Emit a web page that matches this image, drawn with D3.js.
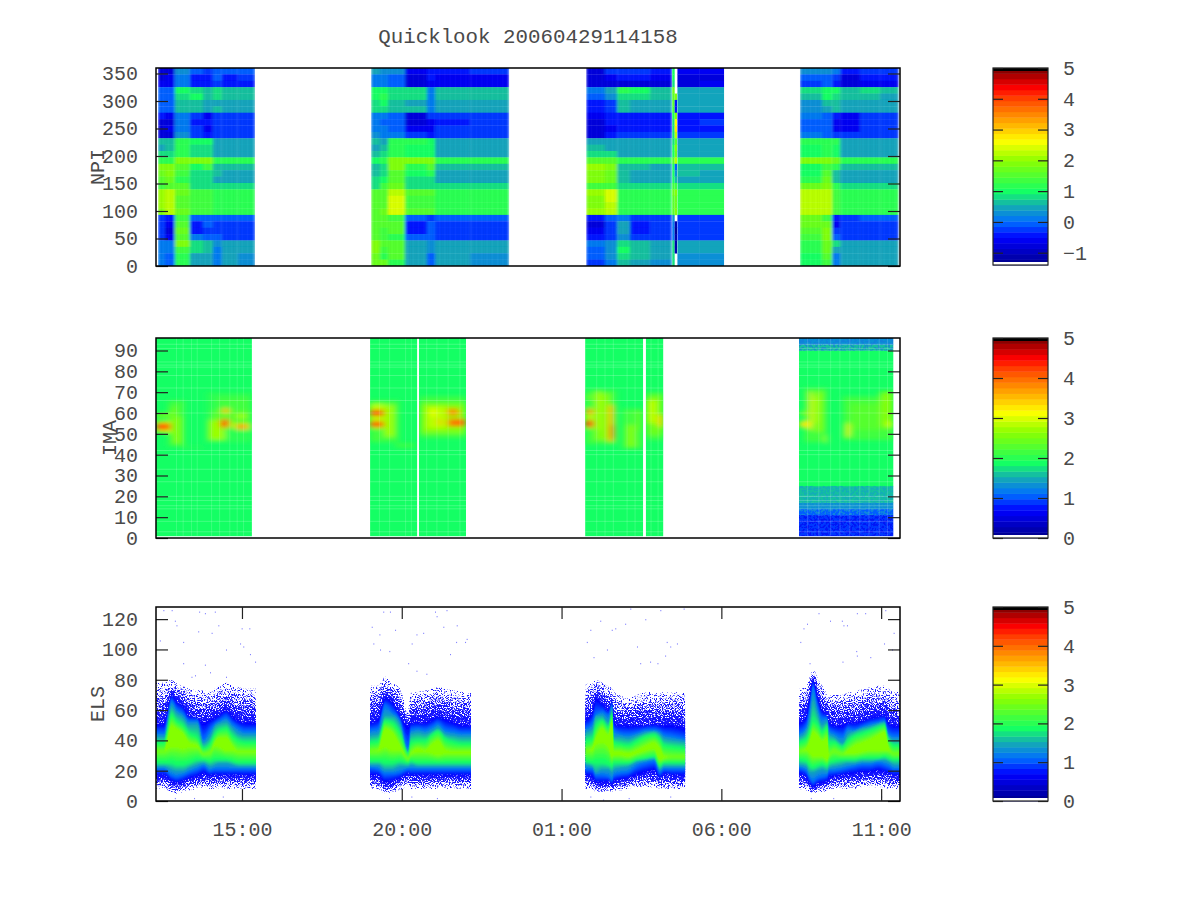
<!DOCTYPE html>
<html>
<head>
<meta charset="utf-8">
<title>Quicklook</title>
<script src="https://d3js.org/d3.v7.min.js"></script>
<style>
body { margin: 0; background: #fff; }
text { font-family: "Liberation Mono", monospace; fill: #4a4a4a; }
.axis text { font-size: 20px; fill: #4a4a4a; }
.axis line { stroke: #222; stroke-width: 1.2; }
.axis path { display: none; }
</style>
</head>
<body>
<script>
// hours count on from midnight of the first day, so 25 is 01:00 next day
var timeDomain = [12.31, 35.59];
var timeTicks = [15, 20, 25, 30, 35];

var npiTicks = [0, 50, 100, 150, 200, 250, 300, 350];
var imaTicks = [0, 10, 20, 30, 40, 50, 60, 70, 80, 90];
var elsTicks = [0, 20, 40, 60, 80, 100, 120];
var npiBarTicks = [-1, 0, 1, 2, 3, 4, 5];
var barTicks = [0, 1, 2, 3, 4, 5];

// NPI: column edges (hours) and rows from the top sector down to sector 0
var npiEdges1 = [12.37, 12.59, 12.90, 13.37, 13.78, 14.09, 14.37, 14.87, 15.41];
var npiRows1 = [
  [-.7,-.7,.3,-.1,-.3,.0,-.1,-.1],
  [-.7,-.6,.2,-.4,-.5,-.1,-.4,-.3],
  [-.6,-.6,.1,-.4,-.5,-.3,-.5,-.4],
  [-.1,-.1,1.0,.9,.6,.8,.7,.65],
  [-.1,-.1,.9,1.0,.6,.8,.7,.65],
  [.0,-.1,.6,.6,.5,.5,.45,.45],
  [-.1,-.1,.6,.65,.5,.6,.5,.5],
  [-.5,-.6,.2,-.3,-.6,-.2,-.2,-.2],
  [-.7,-.7,.2,-.4,-.5,-.3,-.3,-.3],
  [-.7,-.6,.2,-.3,-.6,-.3,-.2,-.25],
  [-.8,-.7,.3,-.2,-.4,-.2,-.2,-.2],
  [.7,.7,1.15,1.0,1.0,.55,.55,.55],
  [.5,.6,1.1,.9,.9,.5,.5,.5],
  [.9,.9,1.1,.9,.9,.55,.55,.55],
  [1.1,1.1,1.9,1.8,1.8,1.1,1.1,1.1],
  [1.8,1.8,1.5,1.0,1.3,.7,.6,.6],
  [1.75,1.8,1.3,.9,.9,.6,.55,.55],
  [1.6,1.7,1.25,.85,.85,.5,.5,.5],
  [1.3,1.6,1.6,.9,.9,.8,.8,.8],
  [2.0,2.2,1.7,1.3,1.35,1.1,1.1,1.1],
  [2.1,2.3,1.5,1.3,1.4,1.1,1.1,1.1],
  [2.0,2.3,1.5,1.3,1.3,1.1,1.1,1.1],
  [1.9,2.2,1.7,1.3,1.35,1.1,1.1,1.1],
  [-.2,-.5,1.4,-.1,-.1,-.1,-.15,-.15],
  [-.2,-.6,1.6,-.5,-.1,-.2,-.3,-.3],
  [-.3,-.7,1.7,-.4,-.2,-.3,-.3,-.3],
  [-.3,-.6,1.5,.1,.0,-.1,-.2,-.2],
  [.2,.2,1.8,.9,.6,.3,.5,.45],
  [.1,.1,1.4,.8,.6,.2,.45,.4],
  [.1,.0,1.2,.5,.4,.1,.4,.35],
  [.1,.0,1.2,.5,.4,.1,.4,.35]
];

var npiEdges2 = [19.04, 19.32, 19.57, 20.10, 20.79, 21.04, 22.14, 23.36];
var npiRows2 = [
  [.4,.35,.25,-.6,-.4,-.35,-.3],
  [.1,.05,-.1,-.7,-.5,-.6,-.6],
  [.15,.1,-.1,-.7,-.55,-.65,-.6],
  [1.0,1.0,.9,.9,.2,.7,.65],
  [1.0,1.1,.9,.8,.2,.65,.6],
  [.9,1.0,.6,.5,.1,.5,.5],
  [.8,.9,.6,.6,.2,.55,.55],
  [.1,.1,-.1,-.7,-.3,-.2,-.2],
  [.1,.0,-.1,-.7,-.6,-.35,-.3],
  [.2,.1,-.1,-.6,-.6,-.3,-.3],
  [.25,.2,.1,-.3,-.4,-.2,-.2],
  [.6,.55,1.1,1.1,1.05,.55,.55],
  [.55,.7,1.1,1.05,1.0,.5,.5],
  [.7,.9,1.1,1.05,1.0,.55,.55],
  [1.0,1.2,1.9,1.85,1.9,1.1,1.1],
  [.6,.9,1.8,1.1,1.5,.6,.6],
  [.6,.9,1.6,1.0,1.1,.55,.55],
  [.8,1.0,1.5,.9,.8,.5,.5],
  [.9,1.4,1.7,.8,.9,.8,.8],
  [1.6,1.5,2.3,1.5,1.5,1.1,1.1],
  [1.6,1.5,2.4,1.4,1.4,1.1,1.1],
  [1.6,1.6,2.4,1.4,1.4,1.1,1.1],
  [1.6,1.7,2.4,1.5,1.5,1.1,1.1],
  [1.5,1.5,1.4,-.1,-.2,-.15,-.1],
  [1.6,1.5,1.5,-.4,-.1,-.3,-.3],
  [1.6,1.3,1.5,-.4,.0,-.3,-.3],
  [1.5,1.3,1.2,-.1,.0,-.3,-.25],
  [1.9,1.6,1.5,.5,.3,.45,.45],
  [1.8,1.3,1.6,.5,.3,.4,.4],
  [1.7,1.2,1.5,.5,.0,.4,.35],
  [1.7,1.7,1.2,.5,-.1,.4,.35]
];

var npiEdges3 = [25.77, 26.36, 26.74, 27.14, 27.77, 28.46, 28.54, 28.62, 29.33, 30.09];
var npiRows3 = [
  [-.7,-.3,-.3,-.2,-.4,1.0,null,-.6,-.6],
  [-.8,-.6,-.5,-.5,-.6,1.0,null,-.7,-.7],
  [-.8,-.7,-.7,-.7,-.7,.9,null,-.7,-.6],
  [.1,.5,1.1,.95,.7,1.7,null,.55,.55],
  [-.1,.3,.9,.75,.6,1.6,1.8,.5,.5],
  [-.4,-.3,.6,.5,.5,1.6,-.5,.5,.5],
  [-.5,-.3,.6,.55,.5,1.4,-.4,.5,.5],
  [-.6,-.5,-.4,-.4,-.4,1.0,1.8,-.4,-.4],
  [-.7,-.5,-.5,-.5,-.4,.8,2.6,-.4,-.3],
  [-.8,-.6,-.5,-.5,-.5,.8,2.8,-.5,-.4],
  [-.7,-.4,-.3,-.3,-.2,.8,2.2,-.2,-.2],
  [.55,.55,.5,.5,.5,.8,1.6,.55,.55],
  [.6,.55,.5,.45,.5,1.0,1.8,.5,.5],
  [.9,.75,.55,.5,.55,1.0,1.7,.55,.55],
  [1.6,1.5,1.2,1.15,1.1,1.5,2.3,1.1,1.1],
  [2.0,1.8,.6,.6,.55,1.0,.0,.6,.6],
  [1.9,1.7,.6,.55,.55,1.0,.3,.6,.55],
  [1.9,1.7,.6,.55,.55,1.0,.6,.55,.55],
  [1.4,1.4,.8,.8,.75,1.3,1.3,.8,.8],
  [2.0,2.4,1.1,1.1,1.1,1.7,1.8,1.1,1.1],
  [1.9,2.4,1.1,1.1,1.1,1.5,1.7,1.1,1.1],
  [1.9,2.2,1.1,1.1,1.1,1.5,1.7,1.1,1.1],
  [2.0,2.2,1.1,1.1,1.1,1.5,1.8,1.1,1.1],
  [-.4,-.15,.1,-.2,-.2,.3,null,-.2,-.2],
  [-.7,-.3,.4,-.4,-.3,.2,-1.1,-.3,-.3],
  [-.6,-.3,.45,-.4,-.3,.2,-1.3,-.3,-.3],
  [-.5,-.2,.3,-.3,-.2,.2,-1.2,-.25,-.25],
  [.1,.3,.9,.6,.5,.9,-1.1,.4,.4],
  [.0,.3,1.0,.7,.5,.8,-1.1,.4,.4],
  [-.1,.25,.9,.6,.45,.8,null,.35,.35],
  [-.3,.1,.6,.4,.3,.8,null,.35,.35]
];

var npiEdges4 = [32.46, 33.15, 33.47, 33.72, 34.34, 34.97, 35.55];
var npiRows4 = [
  [.25,.3,.1,-.4,-.3,-.2],
  [.0,.0,-.2,-.7,-.5,-.5],
  [-.2,-.1,-.4,-.75,-.6,-.65],
  [.9,1.0,1.0,.65,.85,.6],
  [.7,1.0,.85,.6,.6,.55],
  [.35,.6,.6,.5,.5,.45],
  [.3,.5,.6,.5,.5,.45],
  [.1,.0,-.5,-.6,-.3,-.3],
  [.0,-.1,-.6,-.6,-.3,-.3],
  [-.1,-.1,-.6,-.6,-.3,-.3],
  [.2,.0,-.3,-.3,-.2,-.2],
  [1.1,1.1,1.1,.55,.55,.55],
  [1.0,1.2,1.0,.5,.5,.5],
  [1.05,1.1,1.0,.55,.55,.55],
  [1.9,1.9,1.7,1.1,1.1,1.1],
  [1.0,1.4,1.2,.6,.6,.6],
  [1.0,1.5,.6,.55,.55,.55],
  [1.1,1.7,.7,.55,.55,.55],
  [1.7,1.8,1.1,.8,.8,.8],
  [2.3,2.3,1.4,1.1,1.1,1.1],
  [2.3,2.3,1.3,1.1,1.1,1.1],
  [2.2,2.3,1.3,1.1,1.1,1.1],
  [2.2,2.3,1.4,1.1,1.1,1.1],
  [1.7,1.4,-.5,-.2,-.15,-.15],
  [1.7,1.7,-.6,-.3,-.3,-.3],
  [1.5,1.8,-.3,-.3,-.3,-.3],
  [1.3,1.9,-.1,-.2,-.2,-.2],
  [1.2,1.7,.9,.5,.45,.45],
  [1.1,1.7,.5,.5,.45,.4],
  [1.0,1.6,.2,.45,.4,.4],
  [1.0,1.4,.1,.45,.4,.4]
];

// IMA: [first hour, last hour, bands of [channel from, channel to, value]]
var imaQuiet = [[1, 96, 1.88]];
var imaLate = [[1, 3, .95], [3, 11, .85], [11, 14, 1.05], [14, 17, 1.25], [17, 20, 1.55], [20, 25, 1.62], [25, 90, 1.85], [90, 93, 1.6], [93, 96, 1.3]];
var imaSpans = [
  [12.31, 15.31, imaQuiet],
  [19.01, 20.48, imaQuiet],
  [20.54, 22.01, imaQuiet],
  [25.74, 27.55, imaQuiet],
  [27.64, 28.18, imaQuiet],
  [32.43, 35.38, imaLate]
];
// channels and hours where the original shows paler seams between cells
var imaSeamChannels = [3, 8, 14, 15.5, 18, 20, 27, 33, 40, 42, 60, 66, 72, 78, 82, 83, 84.5, 91, 93];
var imaSeamHours = [12.95, 13.16, 13.42, 13.60, 14.05, 14.30, 14.62, 14.85, 15.05, 19.30, 19.62, 20.12, 20.30, 20.78, 21.10, 21.45, 21.82, 26.10, 26.36, 26.62, 27.05, 27.30, 27.80, 28.02, 32.70, 33.05, 33.42, 33.71, 34.02, 34.33, 34.62, 34.94, 35.20];
// IMA features: [hour from, hour to, channel from, channel to, value]
var imaPatches = [
  [12.7,13.2,44,66,2.1], [13.9,15.31,46,70,2.05], [19.0,19.9,46,66,2.1], [20.57,22.01,48,68,2.1],
  [25.74,26.7,45,71,2.1], [26.9,27.55,43,62,2.1], [27.66,28.2,47,70,2.1], [32.6,33.3,46,72,2.1], [33.8,35.38,47,68,2.1],
  [12.31,12.77,50.8,56,3.1], [12.31,12.77,58,59.8,2.6], [12.31,12.77,52,54.9,4.3],
  [12.77,12.95,48.6,63,2.4], [12.85,13.11,45.4,58.2,2.5], [13.11,13.22,43,45.4,2.2], [13.22,13.79,43,43.8,2.05],
  [14.21,15.25,61.4,67.8,2.12], [14.05,15.25,52.6,61.4,2.25], [13.95,14.47,47,56.6,2.7],
  [14.33,14.6,53,57,4.1], [14.38,14.6,60,62.2,3.5], [14.57,14.78,53.4,55,2.9],
  [14.8,15.25,52.2,54.7,3.4], [14.88,15.09,52.5,54.3,4.0], [14.83,15.14,57.8,59.2,2.9],
  [19.0,19.45,52.6,64.3,2.9], [19.0,19.45,58.7,61.3,4.4], [19.0,19.45,53.2,56,4.1],
  [19.45,19.79,48.6,63.8,2.7], [19.79,20.41,43.5,45.4,2.1],
  [20.57,22.01,50.2,64.6,2.5], [20.78,21.40,52.6,63,2.9], [20.93,21.04,58.2,62.2,3.1],
  [21.14,21.25,54.2,57,3.6], [21.44,21.74,58.8,62.1,3.8], [21.44,22.01,53.6,57.2,4.0], [21.77,21.84,59,61.4,3.5],
  [25.74,26.0,52.6,62.2,2.9], [25.74,26.0,59.6,61.6,3.8], [25.74,26.0,53.2,56.5,4.2], [25.74,26.0,67,68.2,2.5],
  [26.05,26.52,47,69.4,2.5], [26.12,26.21,51.8,71,2.9], [26.47,26.63,46.2,63.8,3.5], [26.54,26.63,47.8,54.2,4.4],
  [27.04,27.30,43.5,54.2,2.6], [27.30,27.54,51.8,61.4,2.3],
  [27.66,28.20,49.4,68.6,2.4], [27.66,27.98,55,66.2,2.8], [28.03,28.20,53.4,59,3.4],
  [32.44,32.78,53.2,56,3.2], [32.44,32.78,59,60.6,2.5], [32.76,32.83,51.8,70.2,3.2],
  [32.94,33.20,51,70.2,2.5], [32.88,32.97,55,67.8,2.9], [33.25,33.30,45.4,49.4,3.0],
  [34.01,35.37,51.8,64.6,2.28], [33.91,34.01,48.6,55,3.2], [34.97,35.37,53.4,70.2,2.5], [35.18,35.37,53.4,55.8,3.0]
];

// ELS contours, channel of each level at each hour:
// [hour, upper edge of the levels outer to inner, then lower edge inner to outer]
var elsPass1 = [
  [12.31, 78,66,51,45,42,39,33, 33,25,23,21,17,12,8],
  [12.55, 78,66,51,45,42,39,33, 33,25,23,21,17,12,8],
  [12.80, 80,74,70,66,62,57,50, 35,25,21,17,13,9,6],
  [12.95, 78,72,66,61,58,53,48, 35,24,20,16,12,8,5],
  [13.15, 76,70,63,58,55,50,45, 34,24,20,17,13,9,6],
  [13.35, 74,66,56,53,50,45,39, 35,25,22,19,15,10,7],
  [13.60, 73,64,55,53,50,42,37, 35,27,24,21,16,11,8],
  [13.80, 73,62,52,41,38,35,31, 31,27,25,23,18,13,9],
  [14.00, 72,63,54,47,42,38,32, 32,26,23,20,17,12,8],
  [14.15, 74,64,55,51,49,44,39, 36,27,24,21,17,12,8],
  [14.30, 76,66,57,53,51,47,42, 35,27,25,21,17,12,8],
  [14.50, 78,68,60,55,52,48,42, 33,27,25,21,17,12,8],
  [14.70, 76,66,56,51,48,43,37, 33,26,24,21,17,12,8],
  [14.90, 75,65,53,48,44,40,33, 32,25,23,21,17,12,8],
  [15.10, 74,65,52,46,43,39,33, 32,25,23,21,17,12,8],
  [15.44, 74,65,52,46,43,39,33, 32,25,23,21,17,12,8]
];
var elsPass2 = [
  [19.01, 76,66,52,47,43,39,33, 33,26,24,22,17,12,8],
  [19.26, 76,68,54,48,44,40,34, 33,26,24,21,17,12,8],
  [19.48, 82,74,68,63,56,53,48, 35,25,21,18,12,8,5],
  [19.69, 78,72,66,59,56,52,46, 33,25,21,18,13,8,6],
  [19.95, 74,66,56,53,50,45,37, 33,26,23,19,15,11,7],
  [20.20, 60,54,50,36,33,32,28, 28,25,23,21,18,14,10],
  [20.29, 72,62,52,47,44,39,32, 31,26,24,21,17,12,8],
  [20.51, 72,64,52,48,45,40,35, 32,25,23,21,17,12,8],
  [20.73, 73,64,52,47,44,40,34, 32,25,23,21,17,12,8],
  [20.95, 74,65,54,49,46,44,38, 31,25,23,21,17,12,8],
  [21.13, 75,66,56,51,48,46,40, 30,25,23,21,17,12,8],
  [21.38, 74,65,54,47,44,41,34, 31,25,23,21,17,12,8],
  [21.64, 73,64,52,46,43,39,33, 31,25,23,21,17,12,8],
  [21.89, 72,64,50,45,42,38,33, 31,25,23,21,17,12,8],
  [22.17, 72,64,50,45,42,38,33, 31,25,23,21,17,12,8]
];
var elsPass3 = [
  [25.74, 77,67,54,48,45,40,33, 33,26,24,21,17,12,8],
  [25.95, 78,70,58,51,47,41,35, 33,25,23,21,16,11,8],
  [26.08, 80,74,68,57,56,50,42, 37,25,19,17,12,8,6],
  [26.27, 78,72,64,59,56,53,48, 38,25,21,17,12,8,6],
  [26.46, 76,68,60,57,52,49,44, 35,24,21,16,13,9,7],
  [26.58, 74,68,66,63,60,57,52, 29,23,19,14,11,8,6],
  [26.64, 72,62,52,47,42,39,33, 30,25,21,17,13,9,7],
  [26.80, 70,60,50,45,42,38,33, 30,25,22,18,14,10,7],
  [27.08, 68,60,50,44,41,37,32, 29,25,23,19,15,11,8],
  [27.36, 70,62,50,45,43,40,34, 31,27,26,23,17,13,9],
  [27.64, 72,62,50,47,45,43,37, 33,28,27,25,19,13,9],
  [27.89, 72,62,51,47,46,44,39, 34,29,28,26,20,13,9],
  [28.08, 72,62,50,46,44,41,35, 27,23,21,19,15,11,8],
  [28.21, 72,62,50,44,41,37,30, 28,25,23,21,18,12,8],
  [28.46, 72,62,50,43,40,36,29, 29,25,23,21,17,12,8],
  [28.87, 72,60,48,41,39,35,29, 29,25,23,21,17,12,8]
];
var elsPass4 = [
  [32.43, 74,64,52,45,42,39,33, 33,27,24,22,18,12,8],
  [32.65, 76,68,56,49,46,41,35, 33,26,23,20,16,11,7],
  [32.77, 82,76,70,61,54,47,40, 31,23,19,15,11,8,6],
  [32.87, 87,82,80,75,66,53,46, 29,22,19,13,9,7,5],
  [33.00, 82,76,70,63,58,51,44, 29,23,20,15,11,8,6],
  [33.15, 76,68,60,55,50,46,40, 29,24,21,16,12,9,6],
  [33.31, 72,66,56,55,52,49,42, 27,23,20,17,13,9,7],
  [33.37, 70,64,52,47,44,39,31, 30,25,22,20,15,11,8],
  [33.53, 70,62,50,45,42,39,33, 33,26,23,20,16,11,8],
  [33.78, 70,62,50,43,38,36,31, 31,27,24,21,17,12,8],
  [33.97, 72,63,52,48,44,40,34, 31,27,25,22,18,12,8],
  [34.16, 72,63,52,47,46,43,37, 31,27,25,23,18,12,8],
  [34.41, 74,65,53,49,48,45,39, 32,28,26,24,19,13,9],
  [34.66, 75,66,55,51,49,47,41, 33,28,26,24,19,13,9],
  [34.91, 76,66,56,52,51,49,44, 33,28,27,25,20,13,9],
  [35.10, 76,67,57,53,52,50,46, 33,29,27,24,19,13,9],
  [35.23, 74,64,52,45,43,41,36, 33,28,26,23,18,12,8],
  [35.41, 72,62,50,43,40,37,31, 31,27,24,21,17,12,8],
  [35.59, 72,62,50,43,40,37,31, 31,27,24,21,17,12,8]
];
// colour value of the five solid inner levels
var elsLevelValues = [.7, 1.15, 1.5, 1.9, 2.6];

// stray ELS counts far from the main band: [hour, channel]
var elsStray = [
  [12.43,106],[12.54,126],[12.80,126],[12.90,119],[12.95,116],[13.16,105],[13.16,91],[13.42,82],[13.53,83],
  [13.63,112],[13.66,125],[13.84,90],[13.84,124],[14.05,111],[14.00,85],[14.15,125],[14.26,116],[14.50,100],
  [14.50,82],[14.94,104],[14.99,114],[15.04,102],[15.23,114],[15.25,97],[15.41,92],
  [19.06,115],[19.11,104],[19.30,110],[19.32,100],[19.42,125],[19.63,125],[19.61,99],[19.79,113],[20.20,91],
  [20.31,104],[20.46,110],[20.46,86],[20.77,84],[20.67,111],[21.04,125],[21.09,122],[21.30,115],[21.40,126],
  [21.51,97],[21.72,116],[21.70,105],[21.98,105],[22.03,107],
  [25.79,105],[25.90,113],[26.0,95],[26.21,119],[26.42,100],[26.57,113],[26.68,114],[26.99,117],[27.36,102],
  [27.46,91],[27.62,120],[27.77,92],[28.0,91],[28.09,126],[28.24,96],[28.29,105],[28.40,102],[28.61,104],
  [28.82,127],[27.15,127],
  [32.47,105],[32.57,114],[32.68,117],[32.76,91],[33.04,124],[33.40,119],[33.77,119],[33.82,116],[33.79,92],
  [33.93,116],[34.22,99],[34.24,96],[34.24,124],[34.50,124],[34.66,95],[35.09,104],[35.13,126],[35.39,111],[35.34,100],
  [12.9,2],[13.5,2],[14.4,3],[19.6,2],[20.3,3],[21.1,2],[25.9,3],[26.3,1],[27.1,2],[28.4,3],[32.8,2],[33.5,2],[35.0,3]
];

var colorStops = [0, .14, .22, .30, .375, .53, .63, .69, .84, .9, .985];
var colorList = ["#00008c", "#0000ff", "#006eff", "#14aab4", "#14ff64", "#8cff00", "#ffff00", "#ffc800", "#ff4600", "#ff0000", "#8c0000"];
var colorLevels = 36;
var ramp = d3.scaleLinear().domain(colorStops).range(colorList).clamp(true);

// value to colour, stepped like the palette of the original
function colorOf(v, dom) {
  var t = (v - dom[0]) / (dom[1] - dom[0]);
  return ramp((Math.floor(t * colorLevels) + .5) / colorLevels);
}

var svg = d3.select("body").append("svg")
  .attr("width", 1200)
  .attr("height", 900);

var defs = svg.append("defs");

// speckle texture for thinly filled cells, pixels come from the browser's noise filter
function stipple(id, off, freq) {
  var f = defs.append("filter").attr("id", id)
    .attr("filterUnits", "userSpaceOnUse")
    .attr("x", 150).attr("y", 330).attr("width", 760).attr("height", 480)
    .attr("color-interpolation-filters", "sRGB");
  f.append("feTurbulence").attr("type", "fractalNoise").attr("baseFrequency", freq)
    .attr("numOctaves", 2).attr("seed", 7);
  f.append("feColorMatrix").attr("type", "matrix")
    .attr("values", "0 0 0 0 0 0 0 0 0 0 0 0 0 0 0 8 0 0 0 " + off);
  f.append("feComposite").attr("in", "SourceGraphic").attr("operator", "in");
  f.append("feGaussianBlur").attr("stdDeviation", 0.3);
}
var fringeOffsets = [-4.4, -3.95, -3.5, -3.0, -2.4];
fringeOffsets.forEach(function(off, i) { stipple("fringe" + i, off, 0.85); });
stipple("cells", -3.7, 0.42);

defs.append("filter").attr("id", "softY").attr("x", "-5%").attr("y", "-20%").attr("width", "110%").attr("height", "140%")
  .append("feGaussianBlur").attr("stdDeviation", "0.5 0.8");
defs.append("filter").attr("id", "soft").attr("filterUnits", "userSpaceOnUse")
  .attr("x", 150).attr("y", 330).attr("width", 760).attr("height", 220)
  .append("feGaussianBlur").attr("stdDeviation", "3 2");
defs.append("filter").attr("id", "softX").attr("x", "-5%").attr("y", "-2%").attr("width", "110%").attr("height", "104%")
  .append("feGaussianBlur").attr("stdDeviation", "1.6 0");

var x = d3.scaleLinear().domain(timeDomain).range([156, 900]);
var yNpi = d3.scaleLinear().domain([0, 360]).range([266, 68]);
var yIma = d3.scaleLinear().domain([0, 96]).range([538, 338]);
var yEls = d3.scaleLinear().domain([0, 128]).range([801, 607]);

var npiDom = [-1.4, 5];
var otherDom = [0, 5];

// NPI panel
function drawNpi(edges, rows, id) {
  var rowH = 360 / rows.length;
  var cells = [];
  rows.forEach(function(row, i) {
    row.forEach(function(v, j) {
      if (v !== null) cells.push({ row: i, col: j, v: v });
    });
  });
  // the columns of pass 3 would blur across the thin strip otherwise
  var groups = id === 3
    ? [[0, 5, 25.77, 28.46], [5, 7, 28.46, 28.62], [7, 9, 28.62, 30.09]]
    : [[0, rows[0].length, edges[0], edges[edges.length - 1]]];
  groups.forEach(function(part, p) {
    var clipId = "npiClip" + id + "_" + p;
    defs.append("clipPath").attr("id", clipId).append("rect")
      .attr("x", x(part[2])).attr("y", 68)
      .attr("width", x(part[3]) - x(part[2])).attr("height", 198);
    var clipG = svg.append("g").attr("clip-path", "url(#" + clipId + ")");
    var g = clipG.append("g");
    if (part[1] - part[0] > 2) g.attr("filter", "url(#softX)");
    g.selectAll("rect")
      .data(cells.filter(function(d) { return d.col >= part[0] && d.col < part[1]; }))
      .enter().append("rect")
      .attr("x", function(d) { return x(edges[d.col]); })
      .attr("y", function(d) { return yNpi(360 - d.row * rowH); })
      .attr("width", function(d) { return x(edges[d.col + 1]) - x(edges[d.col]); })
      .attr("height", yNpi(0) - yNpi(rowH) + .3)
      .attr("fill", function(d) { return colorOf(d.v, npiDom); });
    // fine time columns of the original
    if (part[1] - part[0] > 2) {
      clipG.selectAll("line").data(d3.range(part[2], part[3], 0.055)).enter().append("line")
        .attr("x1", function(d) { return x(d); }).attr("x2", function(d) { return x(d); })
        .attr("y1", 68).attr("y2", 266)
        .attr("stroke", function(d, i) { return i % 3 ? "#000" : "#fff"; })
        .attr("stroke-width", .6).attr("stroke-opacity", .05);
    }
  });
}
drawNpi(npiEdges1, npiRows1, 1);
drawNpi(npiEdges2, npiRows2, 2);
drawNpi(npiEdges3, npiRows3, 3);
drawNpi(npiEdges4, npiRows4, 4);

// IMA panel
var imaG = svg.append("g");
imaSpans.forEach(function(span, s) {
  var g = imaG.append("g");
  g.selectAll("rect").data(span[2]).enter().append("rect")
    .attr("x", x(span[0]))
    .attr("y", function(d) { return yIma(d[1]); })
    .attr("width", x(span[1]) - x(span[0]))
    .attr("height", function(d) { return yIma(d[0]) - yIma(d[1]) + .3; })
    .attr("fill", function(d) { return colorOf(d[2], otherDom); });
  defs.append("clipPath").attr("id", "imaClip" + s).append("rect")
    .attr("x", x(span[0])).attr("y", yIma(96))
    .attr("width", x(span[1]) - x(span[0])).attr("height", yIma(1) - yIma(96));
  var patches = imaPatches.filter(function(p) { return p[0] < span[1] && p[1] > span[0]; });
  var inner = imaG.append("g").attr("clip-path", "url(#imaClip" + s + ")");
  inner.append("g").attr("filter", "url(#soft)")
    .selectAll("rect").data(patches).enter().append("rect")
    .attr("x", function(d) { return x(d[0]); })
    .attr("y", function(d) { return yIma(d[3]); })
    .attr("width", function(d) { return x(d[1]) - x(d[0]); })
    .attr("height", function(d) { return yIma(d[2]) - yIma(d[3]); })
    .attr("fill", function(d) { return colorOf(d[4], otherDom); });
  // the late pass is noisy in its low and high channels
  if (span[2] === imaLate) {
    inner.selectAll("rect.noise").data([[1, 11, "#0000f0"], [11, 25, "#14a0c8"], [90, 96, "#1478dc"]])
      .enter().append("rect").attr("class", "noise")
      .attr("x", x(span[0])).attr("width", x(span[1]) - x(span[0]))
      .attr("y", function(d) { return yIma(d[1]); })
      .attr("height", function(d) { return yIma(d[0]) - yIma(d[1]); })
      .attr("fill", function(d) { return d[2]; })
      .attr("fill-opacity", .6)
      .attr("filter", "url(#cells)");
  }
  inner.selectAll("line.row").data(imaSeamChannels).enter().append("line").attr("class", "row")
    .attr("x1", x(span[0])).attr("x2", x(span[1]))
    .attr("y1", function(d) { return yIma(d); }).attr("y2", function(d) { return yIma(d); })
    .attr("stroke", "#fff").attr("stroke-opacity", .2);
  inner.selectAll("line.col").data(imaSeamHours).enter().append("line").attr("class", "col")
    .attr("y1", yIma(96)).attr("y2", yIma(1))
    .attr("x1", function(d) { return x(d); }).attr("x2", function(d) { return x(d); })
    .attr("stroke", "#fff").attr("stroke-opacity", .16);
});

// ELS panel
// f picks a contour: whole numbers are the read levels, the rest only shade between them
function elsArea(f) {
  var j = Math.floor(f), t = f - j;
  return d3.area().curve(d3.curveMonotoneX)
    .x(function(d) { return x(d[0]); })
    .y0(function(d) { return yEls(t ? d[14 - j] + (d[13 - j] - d[14 - j]) * t : d[14 - j]); })
    .y1(function(d) { return yEls(t ? d[j + 1] + (d[j + 2] - d[j + 1]) * t : d[j + 1]); });
}
function drawEls(pass, id) {
  var first = pass[0][0], last = pass[pass.length - 1][0];
  defs.append("clipPath").attr("id", "elsClip" + id).append("rect")
    .attr("x", x(first)).attr("y", 607)
    .attr("width", x(last) - x(first)).attr("height", 194);
  var g = svg.append("g").attr("clip-path", "url(#elsClip" + id + ")");
  fringeOffsets.forEach(function(off, i) {
    g.append("path").attr("d", elsArea(i * .4)(pass)).attr("fill", "#1414ff").attr("filter", "url(#fringe" + i + ")");
  });
  var inner = g.append("g").attr("filter", "url(#softY)");
  d3.range(0, 4.01, .25).forEach(function(s) {
    var k = Math.floor(s), t = s - k;
    var v = k < 4 ? elsLevelValues[k] + (elsLevelValues[k + 1] - elsLevelValues[k]) * t : elsLevelValues[4];
    inner.append("path").attr("d", elsArea(2 + Math.min(s, 3.999))(pass)).attr("fill", ramp(v / 5));
  });
}
drawEls(elsPass1, 1);
drawEls(elsPass2, 2);
drawEls(elsPass3, 3);
drawEls(elsPass4, 4);

svg.append("g").selectAll("rect").data(elsStray).enter().append("rect")
  .attr("x", function(d) { return x(d[0]); })
  .attr("y", function(d) { return yEls(d[1]); })
  .attr("width", 1).attr("height", 1.2)
  .attr("fill", "#2828ff").attr("fill-opacity", .6);

// frames and axes
function frame(y, ticks) {
  var r = y.range();
  var g = svg.append("g");
  g.append("g").attr("class", "axis").attr("transform", "translate(156,0)")
    .call(d3.axisLeft(y).tickValues(ticks).tickSize(-12).tickPadding(18).tickFormat(d3.format("d")));
  g.append("g").attr("class", "axis").attr("transform", "translate(900,0)")
    .call(d3.axisRight(y).tickValues(ticks).tickSize(-12).tickFormat(""));
  g.append("rect").attr("x", 156).attr("y", r[1]).attr("width", 744).attr("height", r[0] - r[1])
    .attr("fill", "none").attr("stroke", "#000").attr("stroke-width", 1.5);
}
frame(yNpi, npiTicks);
frame(yIma, imaTicks);
frame(yEls, elsTicks);

function hourLabel(h) {
  return d3.format("02d")(h % 24) + ":00";
}
svg.append("g").attr("class", "axis").attr("transform", "translate(0,801)")
  .call(d3.axisBottom(x).tickValues(timeTicks).tickSize(-12).tickPadding(21).tickFormat(hourLabel));
svg.append("g").attr("class", "axis").attr("transform", "translate(0,607)")
  .call(d3.axisTop(x).tickValues(timeTicks).tickSize(-12).tickFormat(""));

// colour bars
function colorBar(top, bottom, dom, ticks) {
  var y = d3.scaleLinear().domain(dom).range([bottom, top]);
  var steps = d3.range(colorLevels);
  var stepV = (dom[1] - dom[0]) / colorLevels;
  var g = svg.append("g");
  g.selectAll("rect").data(steps).enter().append("rect")
    .attr("x", 993).attr("width", 55)
    .attr("y", function(d) { return y(dom[0] + (d + 1) * stepV); })
    .attr("height", function(d) { return y(dom[0] + d * stepV) - y(dom[0] + (d + 1) * stepV) + .4; })
    .attr("fill", function(d) { return colorOf(dom[0] + (d + .5) * stepV, dom); });
  g.append("rect").attr("x", 993).attr("y", top).attr("width", 55).attr("height", 3).attr("fill", "#000");
  g.append("rect").attr("x", 993).attr("y", bottom - 3).attr("width", 55).attr("height", 3).attr("fill", "#fff");
  g.append("g").attr("class", "axis").attr("transform", "translate(993,0)")
    .call(d3.axisLeft(y).tickValues(ticks).tickSize(-10).tickFormat(""));
  g.append("g").attr("class", "axis").attr("transform", "translate(1048,0)")
    .call(d3.axisRight(y).tickValues(ticks).tickSize(-10).tickPadding(15).tickFormat(d3.format("d")));
  g.append("rect").attr("x", 993).attr("y", top).attr("width", 55).attr("height", bottom - top)
    .attr("fill", "none").attr("stroke", "#222").attr("stroke-width", 1.2);
}
colorBar(68, 265, npiDom, npiBarTicks);
colorBar(338, 538, otherDom, barTicks);
colorBar(607, 801, otherDom, barTicks);

// titles
svg.append("text").attr("x", 528).attr("y", 43).attr("text-anchor", "middle")
  .style("font-size", "20.8px").text("Quicklook 20060429114158");
function yTitle(label, px, py) {
  svg.append("text").attr("transform", "translate(" + px + "," + py + ") rotate(-90)")
    .attr("text-anchor", "middle").style("font-size", "20px").text(label);
}
yTitle("NPI", 104, 167);
yTitle("IMA", 116, 438);
yTitle("ELS", 104, 704);
</script>
</body>
</html>
